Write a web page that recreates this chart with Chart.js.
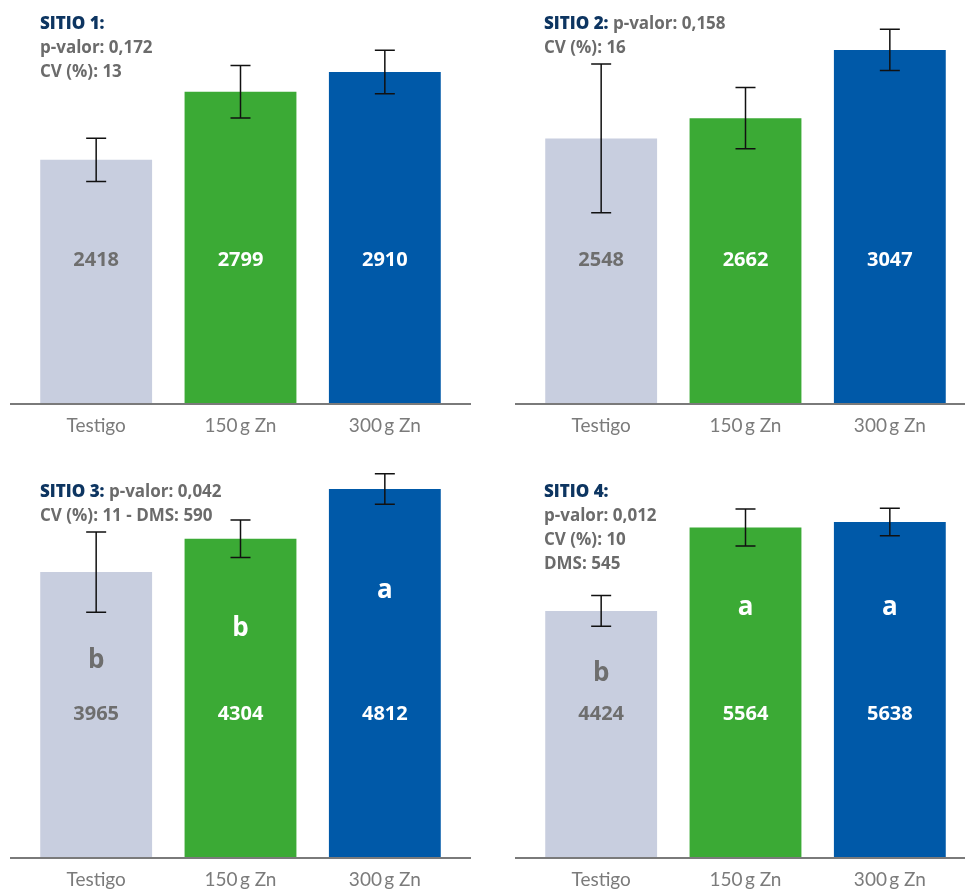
<!DOCTYPE html>
<html>
<head>
<meta charset="utf-8">
<script src="https://cdn.jsdelivr.net/npm/chart.js@4"></script>
<style>
  body { margin: 0; background: #fff; width: 965px; height: 891px; overflow: hidden; position: relative; font-family: "Open Sans", sans-serif; }
  .panel { position: absolute; }
  .panel canvas { display: block; }
  .note { position: absolute; font-weight: 700; font-size: 17px; line-height: 24px; color: #6b6b6b; white-space: nowrap; }
  .note b { color: #0d3561; }
</style>
</head>
<body>

<div class="panel" style="left:0;top:0"><canvas id="sitio1" width="482" height="437"></canvas></div>
<div class="panel" style="left:482px;top:0"><canvas id="sitio2" width="483" height="437"></canvas></div>
<div class="panel" style="left:0;top:454px"><canvas id="sitio3" width="482" height="437"></canvas></div>
<div class="panel" style="left:482px;top:454px"><canvas id="sitio4" width="483" height="437"></canvas></div>

<div class="note" style="left:40px;top:11px"><b>SITIO 1:</b><br>p-valor: 0,172<br>CV (%): 13</div>
<div class="note" style="left:544px;top:11px"><b>SITIO 2:</b> p-valor: 0,158<br>CV (%): 16</div>
<div class="note" style="left:40px;top:479px"><b>SITIO 3:</b> p-valor: 0,042<br>CV (%): 11 - DMS: 590</div>
<div class="note" style="left:544px;top:479px"><b>SITIO 4:</b><br>p-valor: 0,012<br>CV (%): 10<br>DMS: 545</div>

<script>
// categorías y datos por sitio
const categories = ["Testigo", "150\u2009g Zn", "300\u2009g Zn"];

const sitio1Values = [2418, 2799, 2910];
const sitio1Errors = [121, 147, 122];

const sitio2Values = [2548, 2662, 3047];
const sitio2Errors = [419, 173, 116];

const sitio3Values = [3965, 4304, 4812];
const sitio3Errors = [409, 192, 155];
const sitio3Letters = ["b", "b", "a"];

const sitio4Values = [4424, 5564, 5638];
const sitio4Errors = [209, 253, 189];
const sitio4Letters = ["b", "a", "a"];

const barColors = ["#c8cedf", "#3baa35", "#0059a8"];
const textColors = ["#6e6e6e", "#ffffff", "#ffffff"];

// error bars, value labels, letters and the base line
function marksPlugin(errors, letters, letterLift) {
    return {
        id: "marks",
        afterDatasetsDraw(chart) {
            const { ctx, chartArea, scales: { y } } = chart;
            const meta = chart.getDatasetMeta(0);
            const values = chart.data.datasets[0].data;
            ctx.save();

            ctx.strokeStyle = "#7a7a7a";
            ctx.lineWidth = 2;
            ctx.beginPath();
            ctx.moveTo(chartArea.left - 14, y.bottom);
            ctx.lineTo(chartArea.right + 14, y.bottom);
            ctx.stroke();

            meta.data.forEach((bar, i) => {
                const top = y.getPixelForValue(values[i] + errors[i]);
                const bottom = y.getPixelForValue(values[i] - errors[i]);
                ctx.strokeStyle = "#111";
                ctx.lineWidth = 1.5;
                ctx.beginPath();
                ctx.moveTo(bar.x, top);
                ctx.lineTo(bar.x, bottom);
                ctx.moveTo(bar.x - 10, top);
                ctx.lineTo(bar.x + 10, top);
                ctx.moveTo(bar.x - 10, bottom);
                ctx.lineTo(bar.x + 10, bottom);
                ctx.stroke();

                ctx.fillStyle = textColors[i];
                ctx.textAlign = "center";
                ctx.textBaseline = "alphabetic";
                ctx.font = "bold 20px 'Open Sans'";
                ctx.fillText(String(values[i]), bar.x, y.bottom - 138);

                if (letters) {
                    ctx.font = "bold 26px 'Open Sans'";
                    ctx.fillText(letters[i], bar.x, y.bottom - letterLift[i]);
                }
            });
            ctx.restore();
        }
    };
}

function makeChart(id, values, errors, letters, yMax, letterLift, padLeft, padRight) {
    return new Chart(document.getElementById(id), {
        type: "bar",
        data: {
            labels: categories,
            datasets: [{
                data: values,
                backgroundColor: barColors,
                barPercentage: 0.775,
                categoryPercentage: 1
            }]
        },
        options: {
            responsive: false,
            animation: false,
            layout: { padding: { top: 10, bottom: 0, left: padLeft, right: padRight } },
            plugins: { legend: { display: false }, tooltip: { enabled: false } },
            scales: {
                x: {
                    grid: { display: false, drawTicks: false },
                    border: { display: false },
                    ticks: { color: "#7b7b7b", font: { family: "Lato", size: 19 }, padding: 10 },
                    afterFit(scale) { scale.height = 33; }
                },
                y: { display: false, min: 1050, max: yMax }
            }
        },
        plugins: [marksPlugin(errors, letters, letterLift)]
    });
}

makeChart("sitio1", sitio1Values, sitio1Errors, null, 3257, null, 24, 25);
makeChart("sitio2", sitio2Values, sitio2Errors, null, 3272, null, 47, 3);
makeChart("sitio3", sitio3Values, sitio3Errors, sitio3Letters, 5066, [190, 222, 260], 24, 25);
makeChart("sitio4", sitio4Values, sitio4Errors, sitio4Letters, 6430, [177, 243, 243], 47, 3);
</script>
</body>
</html>
